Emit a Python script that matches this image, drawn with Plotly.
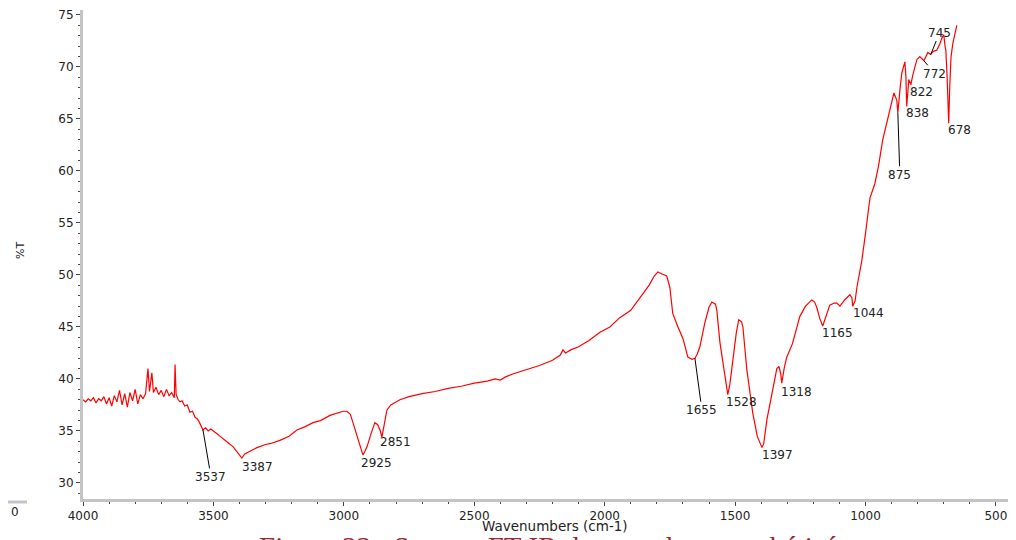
import numpy as np
import plotly.graph_objects as go

# ---- data ----
wavenumber = [
    4000, 3990, 3980, 3970, 3960, 3950, 3940, 3930, 3920, 3910, 3900, 3890, 3880, 3870,
    3860, 3850, 3840, 3830, 3820, 3810, 3800, 3790, 3780, 3770, 3760, 3751, 3745, 3736,
    3730, 3720, 3710, 3700, 3690, 3680, 3670, 3660, 3650, 3647, 3643, 3635, 3628, 3620,
    3610, 3600, 3590, 3580, 3570, 3563, 3555, 3547, 3540, 3530, 3520, 3510, 3502, 3490,
    3480, 3463, 3445, 3425, 3410, 3400, 3391, 3380, 3365, 3350, 3333, 3300, 3280, 3245,
    3210, 3180, 3150, 3118, 3090, 3053, 3020, 3003, 2988, 2975, 2965, 2955, 2946, 2935,
    2927, 2920, 2911, 2895, 2881, 2870, 2860, 2854, 2848, 2840, 2835, 2820, 2800, 2785,
    2750, 2700, 2650, 2600, 2550, 2500, 2450, 2420, 2400, 2380, 2350, 2300, 2250, 2200,
    2170, 2160, 2150, 2130, 2100, 2060, 2018, 1980, 1942, 1900, 1865, 1830, 1810, 1796,
    1780, 1762, 1750, 1739, 1719, 1700, 1681, 1665, 1654, 1645, 1635, 1616, 1600, 1589,
    1575, 1570, 1558, 1545, 1539, 1528, 1520, 1509, 1495, 1486, 1475, 1470, 1455, 1432,
    1415, 1397, 1390, 1378, 1355, 1340, 1332, 1325, 1321, 1312, 1302, 1280, 1252, 1230,
    1206, 1195, 1187, 1175, 1164, 1155, 1137, 1120, 1110, 1098, 1080, 1060, 1052, 1049,
    1040, 1033, 1014, 1000, 990, 983, 964, 950, 934, 920, 907, 891, 880, 876,
    868, 861, 849, 845, 842, 838, 834, 826, 819, 803, 792, 776, 761, 750,
    740, 727, 715, 707, 700, 695, 692, 687, 684, 681, 677, 672, 665, 650,
]
transmittance = [
    38.0, 37.8, 38.1, 37.9, 38.2, 37.7, 38.1, 37.9, 38.3, 37.6, 38.2, 37.4, 38.4, 37.8,
    38.9, 37.5, 38.6, 37.3, 38.7, 37.9, 39.0, 37.6, 38.5, 38.1, 38.6, 41.0, 38.8, 40.6,
    38.7, 39.2, 38.5, 38.9, 38.3, 39.0, 38.4, 38.7, 38.2, 41.4, 38.5, 38.0, 37.8, 37.9,
    37.4, 37.5, 36.8, 36.9, 36.3, 36.2, 35.9, 35.4, 35.1, 35.3, 35.0, 35.2, 35.0, 34.8,
    34.6, 34.3, 33.9, 33.5, 33.0, 32.7, 32.4, 32.8, 33.0, 33.2, 33.4, 33.7, 33.8, 34.1,
    34.5, 35.1, 35.4, 35.8, 36.0, 36.5, 36.8, 36.9, 36.9, 36.6, 35.8, 35.0, 34.1, 33.2,
    32.7, 33.0, 33.5, 34.8, 35.8, 35.6, 35.0, 34.4, 35.2, 36.5, 37.0, 37.5, 37.8, 38.0,
    38.3, 38.6, 38.8, 39.1, 39.3, 39.6, 39.8, 40.0, 39.9, 40.2, 40.5, 40.9, 41.3, 41.8,
    42.3, 42.8, 42.5, 42.8, 43.1, 43.7, 44.5, 45.0, 45.9, 46.6, 47.8, 49.0, 49.9, 50.3,
    50.1, 49.9, 48.8, 46.3, 45.0, 43.9, 42.1, 41.9, 42.0, 42.4, 43.1, 45.4, 46.9, 47.4,
    47.2, 46.6, 43.5, 41.5, 40.6, 38.5, 39.5, 41.8, 44.5, 45.7, 45.5, 45.0, 40.9, 36.7,
    34.5, 33.4, 33.8, 36.1, 39.2, 41.0, 41.2, 40.5, 39.6, 41.0, 42.1, 43.4, 46.0, 47.0,
    47.6, 47.4, 46.9, 45.8, 45.1, 45.7, 47.1, 47.3, 47.3, 47.0, 47.6, 48.1, 47.8, 47.0,
    47.5, 48.8, 51.4, 54.0, 56.0, 57.4, 58.8, 60.5, 63.0, 64.5, 65.9, 67.5, 66.8, 65.6,
    67.8, 69.4, 70.5, 69.0, 66.2, 67.5, 68.8, 68.3, 69.2, 70.7, 71.0, 70.6, 71.4, 71.2,
    71.5, 71.6, 72.2, 72.8, 73.1, 72.0, 71.6, 69.0, 66.2, 64.6, 68.1, 71.0, 72.3, 74.0,
]

peak_labels = ["3537", "3387", "2925", "2851", "1655", "1528", "1397", "1318",
               "1165", "1044", "875", "838", "822", "772", "745", "678"]
peak_positions = [3540, 3391, 2927, 2854, 1654, 1528, 1397, 1321,
                  1164, 1049, 876, 842, 826, 776, 750, 681]

x_tick_values = [4000, 3500, 3000, 2500, 2000, 1500, 1000, 500]
y_tick_values = [30, 35, 40, 45, 50, 55, 60, 65, 70, 75]

# ---- styles / layout (not data) ----
# label placement: (dx, dy, leader_line) in pixels, dy positive = downward
label_style = {
    "3537": (8, 47, True), "3387": (16, 9, False), "2925": (14, 8, False),
    "2851": (14, 5, False), "1655": (7, 52, True), "1528": (14, 7, False),
    "1397": (16, 7, False), "1318": (15, 9, False), "1165": (15, 7, False),
    "1044": (16, 7, False), "875": (2, 62, True), "838": (11, 6, False),
    "822": (11, 7, False), "772": (11, 13, True), "745": (9, -22, True),
    "678": (11, 7, False),
}

FONT = "DejaVu Sans"
# the page body has an 8px margin, so the figure is made 8px smaller
PLOT_W, PLOT_H = 933, 489

def px_x(page_x):
    return (page_x - 83) / PLOT_W

def px_y(page_y):
    return (499 - page_y) / PLOT_H

fig = go.Figure()
fig.add_trace(go.Scatter(
    x=wavenumber, y=transmittance, mode="lines",
    line=dict(color="#ff0000", width=1.2), showlegend=False, hoverinfo="skip",
))

wn_sorted = np.array(wavenumber[::-1], dtype=float)
t_sorted = np.array(transmittance[::-1], dtype=float)

annotations = []
for lab, pos in zip(peak_labels, peak_positions):
    yv = float(np.interp(pos, wn_sorted, t_sorted))
    dx, dy, line = label_style[lab]
    if line:
        annotations.append(dict(
            x=pos, y=yv, xref="x", yref="y", text=lab, showarrow=True,
            arrowhead=0, arrowwidth=1, arrowcolor="#000000", ax=dx, ay=dy,
            standoff=0, font=dict(family=FONT, size=12, color="#222222"),
        ))
    else:
        annotations.append(dict(
            x=pos, y=yv, xref="x", yref="y", text=lab, showarrow=False,
            xshift=dx, yshift=-dy, xanchor="center", yanchor="middle",
            font=dict(family=FONT, size=12, color="#222222"),
        ))

annotations.append(dict(
    xref="paper", yref="paper", x=px_x(555), y=px_y(526),
    text="Wavenumbers (cm-1)", showarrow=False, xanchor="center", yanchor="middle",
    font=dict(family=FONT, size=13.5, color="#222222"),
))
annotations.append(dict(
    xref="paper", yref="paper", x=px_x(20), y=px_y(250),
    text="%T", textangle=-90, showarrow=False, xanchor="center", yanchor="middle",
    font=dict(family=FONT, size=11, color="#222222"),
))
annotations.append(dict(
    xref="paper", yref="paper", x=px_x(257), y=px_y(529),
    text="Figure 33 : Spectre FT-IR du complexe synthétisé", showarrow=False,
    xanchor="left", yanchor="top",
    font=dict(family="Liberation Serif", size=29, color="#9a2a36"),
))
annotations.append(dict(
    xref="paper", yref="paper", x=px_x(9), y=px_y(512),
    text="0", showarrow=False, xanchor="left", yanchor="middle",
    font=dict(family=FONT, size=12, color="#222222"),
))

fig.update_layout(
    width=1008, height=532,
    margin=dict(l=75, r=0, t=2, b=41),
    paper_bgcolor="white", plot_bgcolor="white",
    annotations=annotations,
    shapes=[dict(type="line", xref="paper", yref="paper",
                 x0=px_x(8), x1=px_x(27), y0=px_y(502), y1=px_y(502),
                 line=dict(color="#c4c4c4", width=3))],
)
fig.update_xaxes(
    range=[4000, 423], tickvals=x_tick_values, showgrid=False, zeroline=False,
    showline=True, linecolor="#c4c4c4", linewidth=3,
    ticks="outside", ticklen=4, tickcolor="#444444", tickwidth=1,
    minor=dict(dtick=100, ticks="outside", ticklen=2, tickcolor="#444444"),
    tickfont=dict(family=FONT, size=12, color="#222222"),
)
fig.update_yaxes(
    range=[28.46, 75.48], tickvals=y_tick_values, showgrid=False, zeroline=False,
    showline=True, linecolor="#c4c4c4", linewidth=3,
    ticks="outside", ticklen=4, tickcolor="#444444", tickwidth=1,
    minor=dict(dtick=1, ticks="outside", ticklen=2, tickcolor="#444444"),
    tickfont=dict(family=FONT, size=12, color="#222222"),
)

fig.write_html("out.html")
